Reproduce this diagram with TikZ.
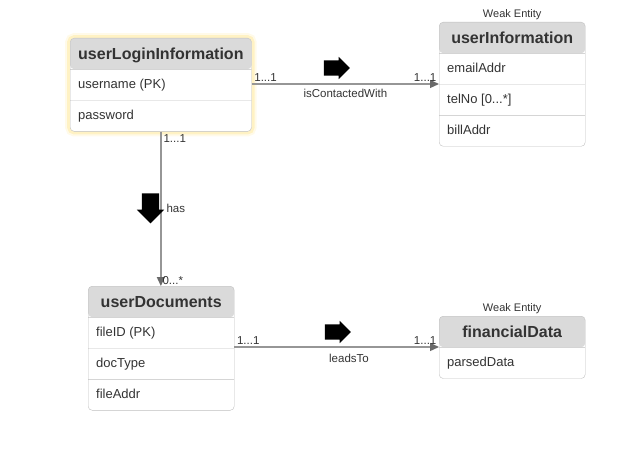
\documentclass[tikz,border=0pt]{standalone}
\usepackage{fontspec}
\setmainfont{Liberation Sans}
\usetikzlibrary{shapes.multipart,shapes.arrows,arrows.meta,positioning}
\definecolor{headcolor}{RGB}{218,218,218}
\definecolor{framecolor}{RGB}{192,192,192}
\definecolor{linkcolor}{RGB}{150,150,150}
\definecolor{tipcolor}{RGB}{105,105,105}
\definecolor{textcolor}{RGB}{51,51,51}
\definecolor{glowcolor}{RGB}{255,222,110}
\newcommand{\enthead}[1]{\rule[-10pt]{0pt}{31pt}\fontsize{16}{19}\selectfont\bfseries #1}
\newcommand{\entrow}{\rule[-11.5pt]{0pt}{30.5pt}}

\begin{document}
\begin{tikzpicture}[x=1pt, y=-1pt,
    entity/.style={rectangle split, rectangle split parts=#1, draw=framecolor, rounded corners=4pt,
        fill=white, inner xsep=8pt, inner ysep=0pt, text=textcolor, font=\fontsize{13}{15}\selectfont,
        rectangle split part align={center,left},
        path picture={\fill[headcolor] (path picture bounding box.north west) rectangle ([yshift=-31pt]path picture bounding box.north east);}},
    glow/.style={preaction={draw=glowcolor, line width=10pt, opacity=0.15},
        preaction={draw=glowcolor, line width=6pt, opacity=0.3}},
    weaklabel/.style={font=\fontsize{11}{13}\selectfont, text=textcolor, inner sep=1pt},
    link/.style={draw=linkcolor, line width=1.3pt, -{Triangle[length=9pt, width=8pt, color=tipcolor]}},
    card/.style={font=\fontsize{11.5}{13}\selectfont, text=textcolor, inner sep=2pt},
    bigarrow/.style={single arrow, fill=black, inner sep=7.5pt, minimum height=26pt,
        single arrow head extend=3.5pt}
]
    \useasboundingbox (0,0) rectangle (636,473);

    % Entities
    \node[entity=3, glow, minimum width=181pt, anchor=north west] (userlogin) at (70,38)
        {\enthead{userLoginInformation}\nodepart{two}\entrow username (PK)\nodepart{three}\entrow password};
    \node[entity=4, minimum width=146pt, anchor=north west] (userinfo) at (439,22)
        {\enthead{userInformation}\nodepart{two}\entrow emailAddr\nodepart{three}\entrow telNo [0...*]\nodepart{four}\entrow billAddr};
    \node[entity=4, minimum width=146pt, anchor=north west] (userdocs) at (88,286)
        {\enthead{userDocuments}\nodepart{two}\entrow fileID (PK)\nodepart{three}\entrow docType\nodepart{four}\entrow fileAddr};
    \node[entity=2, minimum width=146pt, anchor=north west] (findata) at (439,316)
        {\enthead{financialData}\nodepart{two}\entrow parsedData};

    % Weak entity labels
    \node[weaklabel, above=1pt of userinfo.north] (userinfoweak) {Weak Entity};
    \node[weaklabel, above=1pt of findata.north] (findataweak) {Weak Entity};

    % Relations
    \coordinate (loginout) at ([yshift=-46pt]userlogin.north east);
    \coordinate (docsout) at ([yshift=-61pt]userdocs.north east);
    \draw[link] (loginout) -- (loginout -| userinfo.west)
        node[card, pos=0, above right] {1...1}
        node[card, pos=1, above left] {1...1}
        node[card, midway, below=3pt] {isContactedWith};
    \draw[link] (userlogin.south) -- (userlogin.south |- userdocs.north)
        node[card, pos=0, below right] {1...1}
        node[card, pos=1, above right, inner sep=1pt] {0...*}
        node[card, midway, right=3pt] {has};
    \draw[link] (docsout) -- (docsout -| findata.west)
        node[card, pos=0, above right] {1...1}
        node[card, pos=1, above left] {1...1}
        node[card, pos=0.56, below=5pt] {leadsTo};

    % Direction arrows
    \node[bigarrow] (contactdir) at (333,68) {};
    \node[bigarrow, shape border rotate=270, inner sep=8.5pt, minimum height=30pt,
        single arrow head extend=5pt] (hasdir) at (150.5,204) {};
    \node[bigarrow] (leadsdir) at (334,332) {};
\end{tikzpicture}
\end{document}
